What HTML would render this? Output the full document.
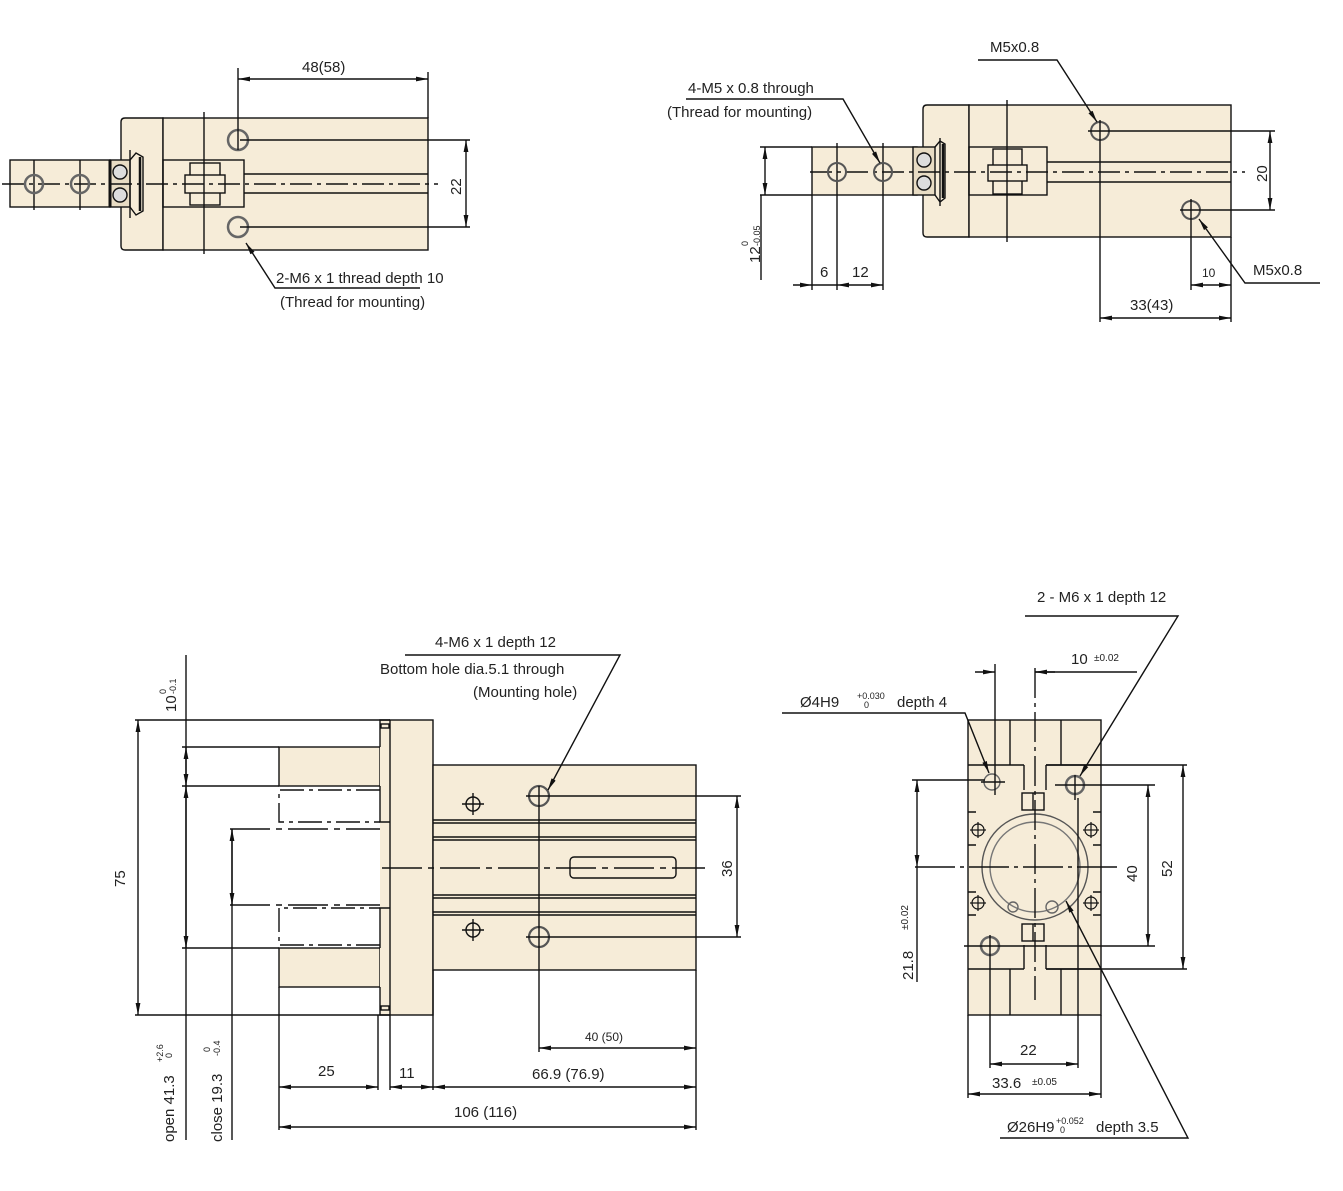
<!DOCTYPE html>
<html><head><meta charset="utf-8"><style>
html,body{margin:0;padding:0;background:#fff;}
svg{display:block;}
text{font-family:"Liberation Sans",sans-serif;fill:#222;}
</style></head><body>
<svg width="1343" height="1191" viewBox="0 0 1343 1191" xmlns="http://www.w3.org/2000/svg">
<defs>
<marker id="a" viewBox="0 0 12 6" refX="12" refY="3" markerWidth="12" markerHeight="6" markerUnits="userSpaceOnUse" orient="auto-start-reverse"><path d="M0,0.6 L12,3 L0,5.4z" fill="#111"/></marker>
</defs>
<g stroke="#111" stroke-width="1.4" fill="none">
<!-- ============ TOP LEFT ============ -->
<g fill="#f6ecd8">
<rect x="10" y="160" width="100" height="47"/>
<path d="M121,122 Q121,118 125,118 L163,118 L163,250 L125,250 Q121,250 121,246z"/>
<rect x="163" y="118" width="265" height="132"/>
</g>
<rect x="110" y="160" width="20" height="47" fill="#e8dcc4"/>
<line x1="110" y1="160" x2="110" y2="207" stroke-width="3"/>
<circle cx="120" cy="172" r="7" fill="#ddd"/><circle cx="120" cy="195" r="7" fill="#ddd"/>
<path d="M130,160 L136,153 L143,157 L143,211 L136,215 L130,207"/>
<line x1="140" y1="157" x2="140" y2="211" stroke-width="2.5"/>
<rect x="163" y="160" width="81" height="47"/>
<rect x="190" y="163" width="30" height="42"/>
<rect x="185" y="175" width="40" height="18" fill="#f6ecd8"/>
<line x1="244" y1="174" x2="428" y2="174"/><line x1="244" y1="193" x2="428" y2="193"/>
<line x1="2" y1="184" x2="438" y2="184" stroke-dasharray="22,5,4,5"/>
<line x1="204" y1="112" x2="204" y2="254"/>
<line x1="34" y1="160" x2="34" y2="210"/><line x1="80" y1="160" x2="80" y2="210"/>
<line x1="130" y1="150" x2="130" y2="218"/>
<circle cx="34" cy="184" r="9" stroke="#666" stroke-width="2.5"/><circle cx="80" cy="184" r="9" stroke="#666" stroke-width="2.5"/>
<circle cx="238" cy="140" r="10" stroke="#666" stroke-width="2.5"/><circle cx="238" cy="227" r="10" stroke="#666" stroke-width="2.5"/>
<line x1="238" y1="68" x2="238" y2="150"/>
<line x1="428" y1="72" x2="428" y2="118"/>
<line x1="238" y1="79" x2="428" y2="79" marker-start="url(#a)" marker-end="url(#a)"/>
<line x1="240" y1="140" x2="470" y2="140"/><line x1="240" y1="227" x2="470" y2="227"/>
<line x1="466" y1="140" x2="466" y2="227" marker-start="url(#a)" marker-end="url(#a)"/>
<polyline points="420,288 275,288 246,243" marker-end="url(#a)"/>

<!-- ============ TOP RIGHT ============ -->
<g fill="#f6ecd8">
<rect x="812" y="147" width="105" height="48"/>
<path d="M923,109 Q923,105 927,105 L969,105 L969,237 L927,237 Q923,237 923,233z"/>
<rect x="969" y="105" width="262" height="132"/>
</g>
<rect x="913" y="147" width="22" height="48" fill="#e8dcc4"/>
<circle cx="924" cy="160" r="7" fill="#ddd"/><circle cx="924" cy="183" r="7" fill="#ddd"/>
<path d="M935,147 L940,141 L945,144 L945,198 L940,202 L935,195"/>
<line x1="943" y1="144" x2="943" y2="198" stroke-width="2.5"/>
<rect x="969" y="147" width="78" height="48"/>
<rect x="993" y="149" width="29" height="45"/>
<rect x="988" y="165" width="39" height="16" fill="#f6ecd8"/>
<line x1="1047" y1="162" x2="1231" y2="162"/><line x1="1047" y1="182" x2="1231" y2="182"/>
<line x1="810" y1="172" x2="1245" y2="172" stroke-dasharray="22,5,4,5"/>
<line x1="1007" y1="100" x2="1007" y2="242"/>
<line x1="837" y1="143" x2="837" y2="290"/><line x1="883" y1="143" x2="883" y2="290"/>
<line x1="812" y1="195" x2="812" y2="290"/>
<line x1="940" y1="138" x2="940" y2="206"/>
<circle cx="837" cy="172" r="9" stroke="#555" stroke-width="2"/><circle cx="883" cy="172" r="9" stroke="#555" stroke-width="2"/>
<circle cx="1100" cy="131" r="9" stroke="#555" stroke-width="2"/><circle cx="1191" cy="210" r="9" stroke="#555" stroke-width="2"/>
<line x1="1100" y1="120" x2="1100" y2="322"/><line x1="1088" y1="131" x2="1275" y2="131"/>
<line x1="1191" y1="199" x2="1191" y2="290"/><line x1="1180" y1="210" x2="1275" y2="210"/>
<line x1="1231" y1="237" x2="1231" y2="322"/>
<line x1="1270" y1="131" x2="1270" y2="210" marker-start="url(#a)" marker-end="url(#a)"/>
<line x1="760" y1="147" x2="812" y2="147"/><line x1="760" y1="195" x2="812" y2="195"/>
<line x1="765" y1="147" x2="765" y2="195" marker-start="url(#a)" marker-end="url(#a)"/>
<line x1="761" y1="195" x2="761" y2="280"/>
<line x1="793" y1="285" x2="812" y2="285" marker-end="url(#a)"/>
<line x1="837" y1="285" x2="883" y2="285" marker-start="url(#a)" marker-end="url(#a)"/>
<line x1="812" y1="285" x2="837" y2="285"/>
<line x1="1191" y1="285" x2="1231" y2="285" marker-start="url(#a)" marker-end="url(#a)"/>
<line x1="1100" y1="318" x2="1231" y2="318" marker-start="url(#a)" marker-end="url(#a)"/>
<polyline points="978,60 1057,60 1097,122" marker-end="url(#a)"/>
<polyline points="1320,283 1245,283 1199,219" marker-end="url(#a)"/>
<polyline points="686,99 843,99 880,163" marker-end="url(#a)"/>

<!-- ============ BOTTOM LEFT ============ -->
<g fill="#f6ecd8">
<rect x="279" y="747" width="101" height="39"/>
<rect x="279" y="948" width="101" height="39"/>
<path d="M380,720 L390,720 L390,1015 L380,1015 L380,908 L380,822z" stroke="none"/>
<rect x="390" y="720" width="43" height="295"/>
<rect x="433" y="765" width="263" height="205"/>
</g>
<polyline points="380,747 380,720 390,720"/><polyline points="380,786 380,822 390,822"/>
<polyline points="380,948 380,908 390,908"/><polyline points="380,987 380,1015 390,1015"/>
<rect x="381" y="724" width="8" height="4"/><rect x="381" y="1006" width="8" height="4"/>
<polyline points="380,790 279,790 279,822 380,822" stroke-dasharray="24,5,4,5"/>
<polyline points="380,945 279,945 279,908 380,908" stroke-dasharray="24,5,4,5"/>
<line x1="230" y1="829" x2="380" y2="829" stroke-dasharray="40,6,6,6"/>
<line x1="230" y1="905" x2="380" y2="905" stroke-dasharray="40,6,6,6"/>
<line x1="433" y1="820" x2="696" y2="820"/><line x1="433" y1="823" x2="696" y2="823"/>
<line x1="433" y1="837" x2="696" y2="837"/><line x1="433" y1="840" x2="696" y2="840"/>
<line x1="433" y1="895" x2="696" y2="895"/><line x1="433" y1="898" x2="696" y2="898"/>
<line x1="433" y1="912" x2="696" y2="912"/><line x1="433" y1="915" x2="696" y2="915"/>
<line x1="382" y1="868" x2="705" y2="868" stroke-dasharray="40,6,6,6"/>
<rect x="570" y="857" width="106" height="21" rx="4"/>
<circle cx="539" cy="796" r="10" stroke="#555" stroke-width="2.2"/><circle cx="539" cy="937" r="10" stroke="#555" stroke-width="2.2"/>
<circle cx="473" cy="804" r="7"/><circle cx="473" cy="930" r="7"/>
<line x1="462" y1="804" x2="484" y2="804"/><line x1="473" y1="793" x2="473" y2="815"/>
<line x1="462" y1="930" x2="484" y2="930"/><line x1="473" y1="919" x2="473" y2="941"/>
<line x1="539" y1="786" x2="539" y2="1052"/>
<line x1="526" y1="796" x2="741" y2="796"/><line x1="526" y1="937" x2="741" y2="937"/>
<line x1="737" y1="796" x2="737" y2="937" marker-start="url(#a)" marker-end="url(#a)"/>
<line x1="135" y1="720" x2="390" y2="720"/><line x1="135" y1="1015" x2="390" y2="1015"/>
<line x1="138" y1="720" x2="138" y2="1015" marker-start="url(#a)" marker-end="url(#a)"/>
<line x1="186" y1="655" x2="186" y2="1140"/>
<line x1="182" y1="747" x2="279" y2="747"/><line x1="182" y1="786" x2="279" y2="786"/><line x1="182" y1="948" x2="279" y2="948"/>
<line x1="186" y1="747" x2="186" y2="786" marker-start="url(#a)" marker-end="url(#a)"/>
<line x1="186" y1="786" x2="186" y2="948" marker-start="url(#a)" marker-end="url(#a)"/>
<line x1="232" y1="829" x2="232" y2="1140"/>
<line x1="232" y1="829" x2="232" y2="905" marker-start="url(#a)" marker-end="url(#a)"/>
<line x1="279" y1="987" x2="279" y2="1130"/><line x1="378" y1="1015" x2="378" y2="1090"/>
<line x1="390" y1="1015" x2="390" y2="1090"/><line x1="433" y1="970" x2="433" y2="1090"/>
<line x1="696" y1="970" x2="696" y2="1130"/>
<line x1="279" y1="1087" x2="378" y2="1087" marker-start="url(#a)" marker-end="url(#a)"/>
<line x1="390" y1="1087" x2="433" y2="1087" marker-start="url(#a)" marker-end="url(#a)"/>
<line x1="433" y1="1087" x2="696" y2="1087" marker-start="url(#a)" marker-end="url(#a)"/>
<line x1="279" y1="1127" x2="696" y2="1127" marker-start="url(#a)" marker-end="url(#a)"/>
<line x1="539" y1="1048" x2="696" y2="1048" marker-start="url(#a)" marker-end="url(#a)"/>
<polyline points="405,655 620,655 548,790" marker-end="url(#a)"/>

<!-- ============ BOTTOM RIGHT ============ -->
<rect x="968" y="720" width="133" height="295" fill="#f6ecd8"/>
<line x1="968" y1="765" x2="1024" y2="765"/><line x1="1046" y1="765" x2="1101" y2="765"/>
<line x1="968" y1="969" x2="1024" y2="969"/><line x1="1046" y1="969" x2="1101" y2="969"/>
<polyline points="1024,765 1024,790"/><polyline points="1046,765 1046,790"/>
<polyline points="1024,969 1024,945"/><polyline points="1046,969 1046,945"/>
<line x1="1010" y1="720" x2="1010" y2="765"/><line x1="1061" y1="720" x2="1061" y2="765"/>
<line x1="1010" y1="969" x2="1010" y2="1015"/><line x1="1061" y1="969" x2="1061" y2="1015"/>
<path d="M968,812 L976,812 M968,845 L976,845 M1093,812 L1101,812 M1093,845 L1101,845 M968,892 L976,892 M968,915 L976,915 M1093,892 L1101,892 M1093,915 L1101,915"/>
<circle cx="1035" cy="867" r="53" stroke="#555"/>
<circle cx="1035" cy="867" r="45" stroke="#777"/>
<rect x="1022" y="793" width="22" height="17"/><line x1="1033" y1="793" x2="1033" y2="810"/>
<rect x="1022" y="924" width="22" height="17"/><line x1="1033" y1="924" x2="1033" y2="941"/>
<circle cx="992" cy="782" r="8" stroke="#666"/>
<circle cx="1075" cy="785" r="9" stroke="#666" stroke-width="2.5"/>
<circle cx="990" cy="946" r="9" stroke="#666" stroke-width="2.5"/>
<circle cx="1013" cy="907" r="5" stroke="#666"/><circle cx="1052" cy="907" r="6" stroke="#666"/>
<g stroke-width="1.2">
<circle cx="978" cy="830" r="6"/><line x1="970" y1="830" x2="986" y2="830"/><line x1="978" y1="822" x2="978" y2="838"/>
<circle cx="1091" cy="830" r="6"/><line x1="1083" y1="830" x2="1099" y2="830"/><line x1="1091" y1="822" x2="1091" y2="838"/>
<circle cx="978" cy="903" r="6"/><line x1="970" y1="903" x2="986" y2="903"/><line x1="978" y1="895" x2="978" y2="911"/>
<circle cx="1091" cy="903" r="6"/><line x1="1083" y1="903" x2="1099" y2="903"/><line x1="1091" y1="895" x2="1091" y2="911"/>
</g>
<line x1="1035" y1="668" x2="1035" y2="1000" stroke-dasharray="30,5,4,5"/>
<line x1="915" y1="867" x2="1122" y2="867" stroke-dasharray="40,5,4,5"/>
<line x1="995" y1="664" x2="995" y2="795"/>
<line x1="975" y1="672" x2="995" y2="672" marker-end="url(#a)"/>
<line x1="1035" y1="672" x2="1137" y2="672"/>
<line x1="1055" y1="672" x2="1035" y2="672" marker-end="url(#a)"/>
<line x1="981" y1="782" x2="1005" y2="782"/>
<line x1="1055" y1="785" x2="1155" y2="785"/>
<line x1="1046" y1="765" x2="1187" y2="765"/>
<line x1="1046" y1="969" x2="1187" y2="969"/>
<line x1="964" y1="946" x2="1155" y2="946"/>
<line x1="1148" y1="785" x2="1148" y2="946" marker-start="url(#a)" marker-end="url(#a)"/>
<line x1="1183" y1="765" x2="1183" y2="969" marker-start="url(#a)" marker-end="url(#a)"/>
<line x1="912" y1="780" x2="985" y2="780"/>
<line x1="917" y1="780" x2="917" y2="867" marker-start="url(#a)" marker-end="url(#a)"/>
<line x1="917" y1="867" x2="917" y2="982"/>
<line x1="990" y1="935" x2="990" y2="1068"/><line x1="1078" y1="798" x2="1078" y2="1068"/>
<line x1="1075" y1="775" x2="1075" y2="800"/>
<line x1="968" y1="1015" x2="968" y2="1098"/><line x1="1101" y1="1015" x2="1101" y2="1098"/>
<line x1="990" y1="1064" x2="1078" y2="1064" marker-start="url(#a)" marker-end="url(#a)"/>
<line x1="968" y1="1094" x2="1101" y2="1094" marker-start="url(#a)" marker-end="url(#a)"/>
<polyline points="782,713 965,713 989,773" marker-end="url(#a)"/>
<polyline points="1025,616 1178,616 1080,776" marker-end="url(#a)"/>
<polyline points="1000,1138 1188,1138 1066,901" marker-end="url(#a)"/>
</g>

<!-- ============ TEXT ============ -->
<g font-size="15">
<text x="302" y="72">48(58)</text>
<text x="276" y="283">2-M6 x 1 thread depth 10</text>
<text x="280" y="307">(Thread for mounting)</text>
<text transform="translate(461,195) rotate(-90)">22</text>

<text x="990" y="52">M5x0.8</text>
<text x="1253" y="275">M5x0.8</text>
<text x="688" y="93">4-M5 x 0.8  through</text>
<text x="667" y="117">(Thread for mounting)</text>
<text transform="translate(1267,182) rotate(-90)">20</text>
<text x="820" y="277">6</text>
<text x="852" y="277">12</text>
<text x="1202" y="277" font-size="12">10</text>
<text x="1130" y="310">33(43)</text>
<text transform="translate(760,263) rotate(-90)">12</text>
<text transform="translate(748,246) rotate(-90)" font-size="9">0</text>
<text transform="translate(760,246) rotate(-90)" font-size="9">-0.05</text>

<text x="435" y="647">4-M6 x 1 depth 12</text>
<text x="380" y="674">Bottom hole dia.5.1 through</text>
<text x="473" y="697">(Mounting hole)</text>
<text transform="translate(125,887) rotate(-90)">75</text>
<text transform="translate(732,877) rotate(-90)">36</text>
<text transform="translate(176,712) rotate(-90)">10</text>
<text transform="translate(166,694) rotate(-90)" font-size="9">0</text>
<text transform="translate(176,694) rotate(-90)" font-size="9">-0.1</text>
<text transform="translate(174,1142) rotate(-90)">open 41.3</text>
<text transform="translate(163,1062) rotate(-90)" font-size="9">+2.6</text>
<text transform="translate(172,1058) rotate(-90)" font-size="9">0</text>
<text transform="translate(222,1142) rotate(-90)">close 19.3</text>
<text transform="translate(210,1052) rotate(-90)" font-size="9">0</text>
<text transform="translate(220,1056) rotate(-90)" font-size="9">-0.4</text>
<text x="318" y="1076">25</text>
<text x="399" y="1078">11</text>
<text x="532" y="1079">66.9 (76.9)</text>
<text x="454" y="1117">106 (116)</text>
<text x="585" y="1041" font-size="12">40 (50)</text>

<text x="1037" y="602">2 - M6 x 1 depth 12</text>
<text x="1071" y="664">10</text><text x="1094" y="661" font-size="10">±0.02</text>
<text x="800" y="707">Ø4H9</text>
<text x="857" y="699" font-size="9">+0.030</text>
<text x="864" y="708" font-size="9">0</text>
<text x="897" y="707">depth 4</text>
<text transform="translate(913,980) rotate(-90)">21.8</text>
<text transform="translate(908,930) rotate(-90)" font-size="10">±0.02</text>
<text transform="translate(1137,882) rotate(-90)">40</text>
<text transform="translate(1172,877) rotate(-90)">52</text>
<text x="1020" y="1055">22</text>
<text x="992" y="1088">33.6</text><text x="1032" y="1085" font-size="10">±0.05</text>
<text x="1007" y="1132">Ø26H9</text>
<text x="1056" y="1124" font-size="9">+0.052</text>
<text x="1060" y="1133" font-size="9">0</text>
<text x="1096" y="1132">depth 3.5</text>
</g>
</svg>
</body></html>
